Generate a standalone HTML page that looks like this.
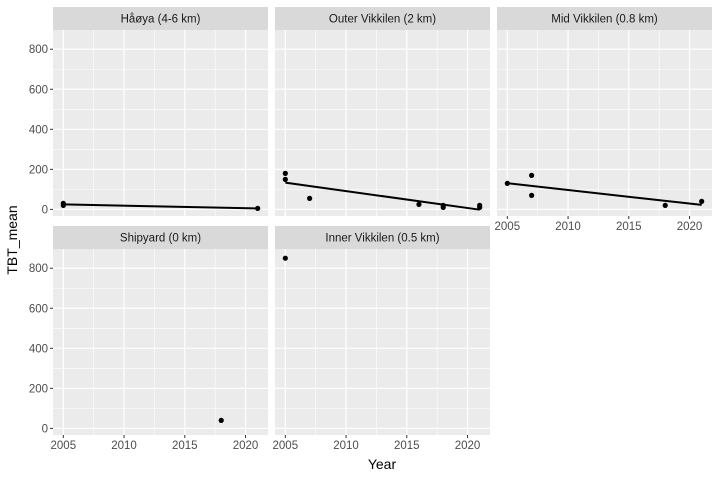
<!DOCTYPE html>
<html><head><meta charset="utf-8"><style>
html,body{margin:0;padding:0;background:#fff;}
svg{display:block;font-family:"Liberation Sans",sans-serif;}
</style></head><body>
<svg id="chart" width="720" height="480"></svg>
<script>
const panelNames = ["Håøya (4-6 km)","Outer Vikkilen (2 km)","Mid Vikkilen (0.8 km)","Shipyard (0 km)","Inner Vikkilen (0.5 km)"];
const panelYears = [
  [2005,2005,2021],
  [2005,2005,2007,2016,2018,2018,2021,2021],
  [2005,2007,2007,2018,2021],
  [2018],
  [2005]
];
const panelValues = [
  [20,30,5],
  [180,150,55,25,20,10,20,10],
  [130,170,70,20,40],
  [40],
  [850]
];
const yTicks = [0,200,400,600,800];
const xTicks = [2005,2010,2015,2020];
const yMinor = [100,300,500,700];
const xMinor = [2007.5,2012.5,2017.5];

const NS="http://www.w3.org/2000/svg";
const svg=document.getElementById('chart');
function mk(tag,attrs,parent){const e=document.createElementNS(NS,tag);for(const k in attrs)e.setAttribute(k,attrs[k]);(parent||svg).appendChild(e);return e;}

const colX=[53,275,497], W=215;
const rows=[{strip:7,top:30,bot:216},{strip:226,top:249,bot:435}];
const xDom=[2004.15,2021.85], yDom=[-33,896];

panelNames.forEach((name,i)=>{
  const col=i%3, row=Math.floor(i/3);
  const x0=colX[col], r=rows[row];
  const H=r.bot-r.top;
  const sx=v=>x0+(v-xDom[0])/(xDom[1]-xDom[0])*W;
  const sy=v=>r.bot-(v-yDom[0])/(yDom[1]-yDom[0])*H;
  const g=mk('g',{});
  
  
  const strip=mk('rect',{x:x0,y:r.strip,width:W,height:r.top-r.strip,fill:'#d9d9d9'},g);
  
  
  const st=mk('text',{x:x0+W/2,y:(r.strip+r.top)/2+4,'text-anchor':'middle','font-size':'11.5',fill:'#1a1a1a'},g);
  st.textContent=name;
  
  
  const bg=mk('rect',{x:x0,y:r.top,width:W,height:H,fill:'#ebebeb'},g);
  
  
  yMinor.forEach(v=>mk('line',{x1:x0,x2:x0+W,y1:sy(v),y2:sy(v),stroke:'#fff','stroke-width':0.6},g));
  xMinor.forEach(v=>mk('line',{x1:sx(v),x2:sx(v),y1:r.top,y2:r.bot,stroke:'#fff','stroke-width':0.6},g));
  yTicks.forEach(v=>mk('line',{x1:x0,x2:x0+W,y1:sy(v),y2:sy(v),stroke:'#fff','stroke-width':1.2},g));
  xTicks.forEach(v=>mk('line',{x1:sx(v),x2:sx(v),y1:r.top,y2:r.bot,stroke:'#fff','stroke-width':1.2},g));
  // y axis on left column
  if(col===0){
    yTicks.forEach(v=>{
      mk('line',{x1:x0-3,x2:x0,y1:sy(v),y2:sy(v),stroke:'#333','stroke-width':1},g);
      const t=mk('text',{x:x0-5,y:sy(v)+4,'text-anchor':'end','font-size':'11.5',fill:'#4d4d4d'},g);
      t.textContent=v;
      
      
    });
  }
  // x axis on bottom of each column
  if(row===1 || col===2){
    xTicks.forEach(v=>{
      mk('line',{x1:sx(v),x2:sx(v),y1:r.bot,y2:r.bot+3,stroke:'#333','stroke-width':1},g);
      const t=mk('text',{x:sx(v),y:r.bot+14,'text-anchor':'middle','font-size':'11.5',fill:'#4d4d4d'},g);
      t.textContent=v;
      
      
    });
  }
  const xs=panelYears[i], ys=panelValues[i];
  // regression line
  if(xs.length>1 && Math.min(...xs)!==Math.max(...xs)){
    const n=xs.length, mx=xs.reduce((a,b)=>a+b)/n, my=ys.reduce((a,b)=>a+b)/n;
    let sxy=0,sxx=0;xs.forEach((x,k)=>{sxy+=(x-mx)*(ys[k]-my);sxx+=(x-mx)*(x-mx);});
    const b=sxy/sxx,a=my-b*mx, xa=Math.min(...xs), xb=Math.max(...xs);
    const ln=mk('line',{x1:sx(xa),y1:sy(a+b*xa),x2:sx(xb),y2:sy(a+b*xb),stroke:'#000','stroke-width':2},g);
    
    
  }
  xs.forEach((x,k)=>{
    const c=mk('circle',{cx:sx(x),cy:sy(ys[k]),r:2.6,fill:'#000'},g);
    
    
  });
});
const yl=mk('text',{x:0,y:0,transform:'translate(17,240) rotate(-90)','text-anchor':'middle','font-size':'14',fill:'#000'});
yl.textContent='TBT_mean';


const xl=mk('text',{x:382,y:469,'text-anchor':'middle','font-size':'14',fill:'#000'});
xl.textContent='Year';


</script>
</body></html>
